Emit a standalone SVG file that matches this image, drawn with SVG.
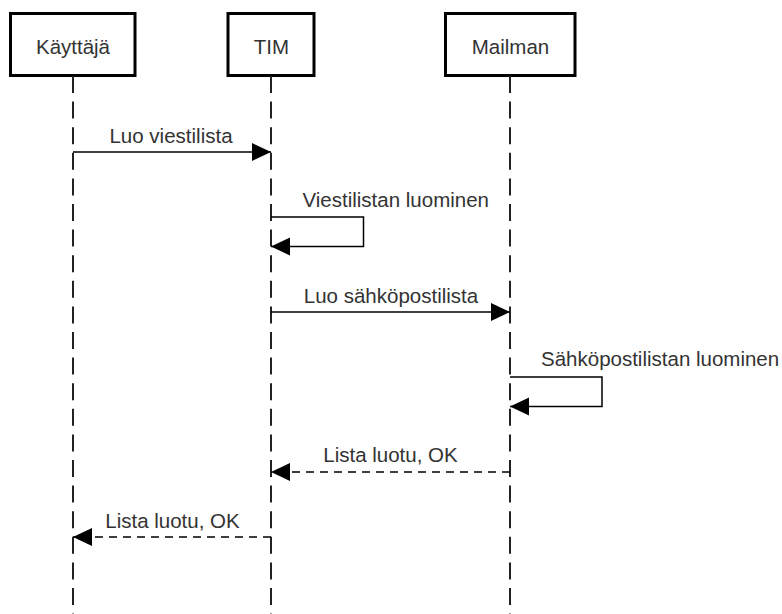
<svg xmlns="http://www.w3.org/2000/svg" width="782" height="614" viewBox="0 0 782 614">
<style>
.box{fill:#fff;stroke:#000;stroke-width:3}
.life{stroke:#222;stroke-width:2;stroke-dasharray:17 8.6;fill:none}
.msg{stroke:#000;stroke-width:1.5;fill:none;marker-end:url(#arr)}
.ret{stroke:#000;stroke-width:1.5;fill:none;stroke-dasharray:8 6;marker-end:url(#arr)}
text{font-family:"Liberation Sans",Arial,sans-serif;font-size:20.5px;fill:#333}
.c{text-anchor:middle}
</style>
<defs>
<marker id="arr" markerUnits="userSpaceOnUse" markerWidth="20" markerHeight="20" refX="19" refY="9" orient="auto">
<path d="M0,0 L19,9 L0,18 Z" fill="#000"/>
</marker>
</defs>
<g id="kayttaja">
<rect class="box" x="10.5" y="13.5" width="124.5" height="62"/>
<text class="c" x="73" y="54">Käyttäjä</text>
<line class="life" x1="73" y1="76" x2="73" y2="614"/>
</g>
<g id="tim">
<rect class="box" x="228" y="13.5" width="86" height="62"/>
<text class="c" x="271.5" y="53.5">TIM</text>
<line class="life" x1="271" y1="76" x2="271" y2="614"/>
</g>
<g id="mailman">
<rect class="box" x="445.5" y="13.5" width="129.5" height="62"/>
<text class="c" x="510.5" y="53.5">Mailman</text>
<line class="life" x1="510" y1="76" x2="510" y2="614"/>
</g>
<g id="connectors">
<path class="msg" d="M73,152 H271"/>
<text class="c" x="171" y="142.5">Luo viestilista</text>
<path class="msg" d="M271,217 H363.5 V246.5 H271"/>
<text x="302.5" y="207">Viestilistan luominen</text>
<path class="msg" d="M271,312 H510"/>
<text class="c" x="391" y="302.5">Luo sähköpostilista</text>
<path class="msg" d="M510,377 H602 V406.5 H510"/>
<text x="541" y="366">Sähköpostilistan luominen</text>
<path class="ret" d="M510,472 H271"/>
<text class="c" x="390.5" y="462">Lista luotu, OK</text>
<path class="ret" d="M271,537 H73"/>
<text class="c" x="172.5" y="528">Lista luotu, OK</text>
</g>
</svg>
